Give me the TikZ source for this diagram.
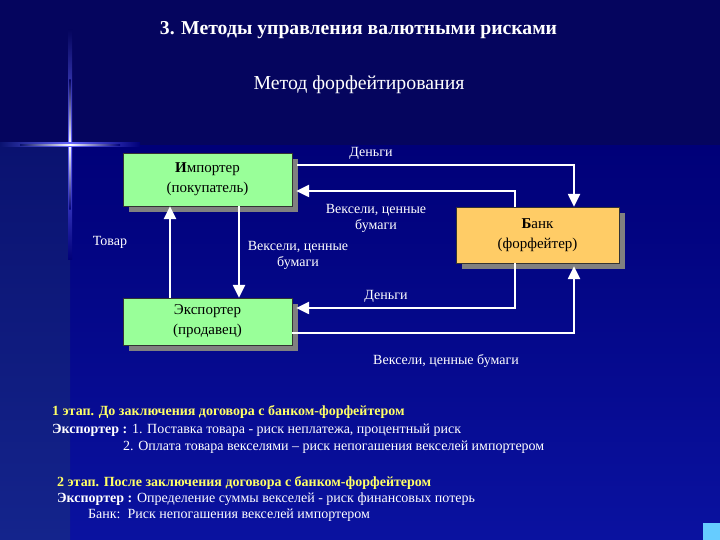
\documentclass[tikz,border=0pt]{standalone}
\usepackage{fontspec}
\setmainfont{Liberation Serif}
\usetikzlibrary{positioning,shapes,arrows.meta,shadows}
\definecolor{topbg}{HTML}{05055E}
\definecolor{lowtop}{HTML}{000078}
\definecolor{lowbot}{HTML}{0A12A0}
\definecolor{striptop}{HTML}{0A1270}
\definecolor{stripbot}{HTML}{14248C}
\definecolor{boxgreen}{HTML}{99FF99}
\definecolor{boxorange}{HTML}{FFCC66}
\definecolor{shadowgray}{HTML}{808080}
\definecolor{stepyellow}{HTML}{FFFF66}
\definecolor{cornerblue}{HTML}{66CCFF}

\begin{document}
\begin{tikzpicture}[
  x=1pt, y=1pt,
  mybox/.style={draw=black!80, thin, align=center, inner sep=0pt,
    font=\fontsize{15}{20}\selectfont,
    drop shadow={shadow xshift=6pt, shadow yshift=-6pt, fill=shadowgray, opacity=1}},
  mylabel/.style={text=white, align=center, inner sep=0pt, font=\fontsize{14}{16}\selectfont},
  mytext/.style={text=white, anchor=base west, inner sep=0pt, font=\fontsize{14}{16}\selectfont},
  mystep/.style={mytext, text=stepyellow, font=\fontsize{14}{16}\selectfont\bfseries},
  myarrow/.style={draw=white, line width=2.4pt, -{Triangle[width=12pt,length=13pt]}}
    ]

% background
\useasboundingbox (0,0) rectangle (720,540);
\shade[top color=lowtop, bottom color=lowbot] (70,0) rectangle (720,395);
\shade[top color=striptop, bottom color=stripbot] (0,0) rectangle (70,395);
\fill[topbg] (0,395) rectangle (720,540);
\shade[top color=topbg, bottom color=lowtop, middle color=blue!60!white] (68,280) rectangle (72,510);
\shade[top color=topbg, bottom color=lowtop, middle color=white] (69.3,330) rectangle (70.7,460);
\shade[left color=striptop, right color=lowtop, middle color=blue!60!white] (0,393) rectangle (140,397);
\shade[left color=striptop, right color=lowtop, middle color=white] (20,394.3) rectangle (120,395.7);
\fill[cornerblue] (703,0) rectangle (720,17);

% titles
\node[text=white, font=\fontsize{19.7}{22}\selectfont\bfseries] (title) at (358.5,510) {3. Методы управления валютными рисками};
\node[text=white, font=\fontsize{19.8}{22}\selectfont] (subtitle) at (359,455) {Метод форфейтирования};

% participants
\node[mybox, fill=boxgreen, minimum width=169pt, minimum height=53pt] (imp) at (207.5,360.5) {\textbf{И}мпортер\\(покупатель)};
\node[mybox, fill=boxgreen, minimum width=169pt, minimum height=47pt] (exp) at (207.5,218.5) {Экспортер\\(продавец)};
\node[mybox, fill=boxorange, minimum width=163pt, minimum height=56pt] (bank) at (537.5,305) {\textbf{Б}анк\\(форфейтер)};

% flows
\draw[myarrow] ([shift={(5pt,14.5pt)}]imp.east) -| ([xshift=36.5pt]bank.north);
\draw[myarrow] ([xshift=-22.5pt]bank.north) |- ([shift={(4pt,-11.5pt)}]imp.east);
\draw[myarrow] ([xshift=31.5pt]imp.south) -- ([xshift=31.5pt]exp.north);
\draw[myarrow] ([xshift=-37.5pt]exp.north) -- ([xshift=-37.5pt]imp.south);
\draw[myarrow] ([xshift=-22.5pt]bank.south) |- ([shift={(4pt,13.5pt)}]exp.east);
\draw[myarrow] ([yshift=-11.5pt]exp.east) -| ([shift={(36.5pt,-3pt)}]bank.south);

\node[mylabel] (money1) at (371,387) {Деньги};
\node[mylabel] (bills1) at (376,322) {Вексели, ценные\\бумаги};
\node[mylabel] (bills2) at (298,285) {Вексели, ценные\\бумаги};
\node[mylabel] (goods) at (110,298) {Товар};
\node[mylabel] (money2) at (386,244) {Деньги};
\node[mylabel] (bills3) at (446,179) {Вексели, ценные бумаги};

% stages
\node[mystep] (stage1) at (52,124) {1 этап. До заключения договора с банком-форфейтером};
\node[mytext] (risk1) at (52,106) {\textbf{Экспортер :} 1. Поставка товара - риск неплатежа, процентный риск};
\node[mytext] (risk2) at (123,89) {2. Оплата товара векселями – риск непогашения векселей импортером};
\node[mystep] (stage2) at (57,53) {2 этап. После заключения договора с банком-форфейтером};
\node[mytext] (risk3) at (57,37) {\textbf{Экспортер :} Определение суммы векселей - риск финансовых потерь};
\node[mytext] (risk4) at (88,21) {Банк:\ \ Риск непогашения векселей импортером};

\end{tikzpicture}
\end{document}
